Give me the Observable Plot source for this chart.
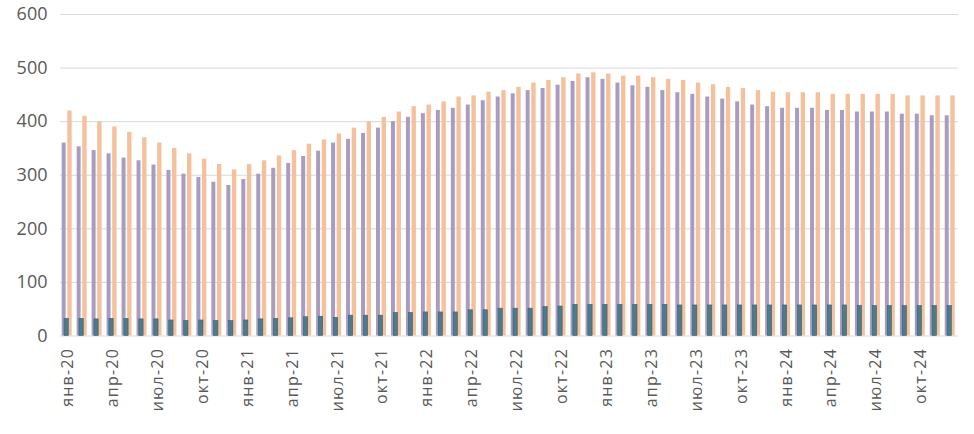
<!DOCTYPE html>
<html>
<head>
<meta charset="utf-8">
<script src="https://cdn.jsdelivr.net/npm/d3@7"></script>
<script src="https://cdn.jsdelivr.net/npm/@observablehq/plot@0.6"></script>
<style>
  html, body { margin: 0; padding: 0; background: #fff; }
  #chart svg { display: block; }
</style>
</head>
<body>
<div id="chart"></div>
<script>
const monthNames = ["янв","фев","мар","апр","май","июн","июл","авг","сен","окт","ноя","дек"];
const years = ["20","21","22","23","24"];
const categories = years.flatMap(y => monthNames.map(m => `${m}-${y}`));

const seriesLavender = [360,353,346,340,332,327,319,309,302,296,287,281,
  292,302,313,322,335,345,
  360,367,378,388,400,408,415,421,425,431,439,446,
  452,458,462,468,475,482,479,472,467,464,458,454,451,446,442,
  437,431,428,425,425,425,421,421,418,418,418,414,414,411,411];
const seriesOrange = [420,410,400,390,380,370,360,350,340,330,320,310,
  320,327,336,346,358,366,
  377,388,400,408,418,428,431,437,446,448,455,458,
  464,472,477,482,489,491,489,485,485,482,479,477,472,469,464,
  462,458,455,454,454,454,451,451,451,451,451,448,448,448,448];
const seriesTeal = [32,32,31,32,32,31,31,29,28,29,28,28,
  29,31,32,33,35,36,
  34,38,38,38,43,43,44,44,44,48,48,51,
  51,51,54,55,58,58,58,58,58,58,58,57,57,57,57,
  57,57,57,57,57,57,57,57,56,56,56,56,56,56,56];
const yTicks = [0,100,200,300,400,500,600];
const xTickLabels = categories.filter((d, i) => i % 3 === 0);

const data = categories.map((c, i) => ({month: c, lav: seriesLavender[i], org: seriesOrange[i], teal: seriesTeal[i]}));

const chart = Plot.plot({
  width: 974,
  height: 434,
  marginTop: 14,
  marginBottom: 98.5,
  marginLeft: 60,
  marginRight: 16,
  style: {fontFamily: "'Open Sans', sans-serif", color: "#595959", background: "#fff"},
  x: {type: "band", domain: categories, padding: 0},
  y: {domain: [0, 600]},
  marks: [
    Plot.gridY(yTicks, {stroke: "#d9d9d9", strokeOpacity: 1, strokeWidth: 1}),
    Plot.barY(data, {x: "month", y: "lav", fill: "#a99cc1", insetLeft: 1.7, insetRight: 9.3}),
    Plot.barY(data, {x: "month", y: "org", fill: "#f4c19c", insetLeft: 7.3, insetRight: 3.3}),
    Plot.barY(data, {x: "month", y: "teal", fill: "#4b7b8c", stroke: "#3d6070", strokeWidth: 0.6, insetLeft: 4, insetRight: 6.7}),
    Plot.axisY(yTicks, {tickSize: 0, tickPadding: 13, fontSize: 18, fill: "#595959", label: null}),
    Plot.axisX(xTickLabels, {tickSize: 0, tickRotate: -90, tickPadding: 12, fontSize: 16, fill: "#595959", label: null})
  ]
});
d3.select(chart).selectAll('g[aria-label="x-axis tick label"] text').style("letter-spacing", "1.2px");
document.getElementById("chart").appendChild(chart);
</script>
</body>
</html>
